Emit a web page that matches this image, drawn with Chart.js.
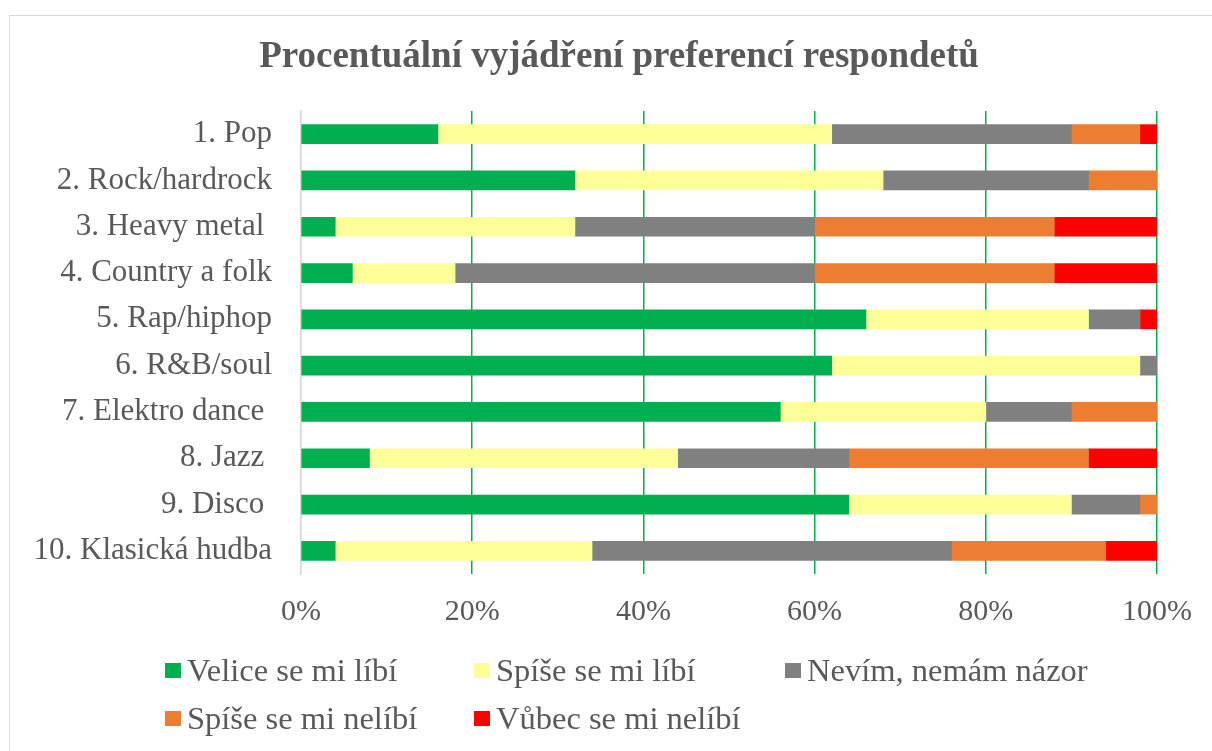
<!DOCTYPE html>
<html>
<head>
<meta charset="utf-8">
<script src="https://cdn.jsdelivr.net/npm/chart.js@4"></script>
<style>
    html, body { margin: 0; padding: 0; background: #fff; }
    #frame {
        position: absolute; left: 9px; top: 15px; width: 1230px; height: 760px;
        border: 1px solid #d9d9d9; box-sizing: border-box;
    }
    #wrap { position: absolute; left: 0; top: 0; width: 1212px; height: 751px; }
</style>
</head>
<body>
<div id="frame"></div>
<div id="wrap"><canvas id="chart"></canvas></div>
<script>
const categories = [
    "1. Pop", "2. Rock/hardrock", "3. Heavy metal ", "4. Country a folk", "5. Rap/hiphop",
    "6. R&B/soul", "7. Elektro dance ", "8. Jazz ", "9. Disco ", "10. Klasická hudba",
];
const veliceLibi = [16, 32, 4, 6, 66, 62, 56, 8, 64, 4];
const spiseLibi = [46, 36, 28, 12, 26, 36, 24, 36, 26, 30];
const nevim = [28, 24, 28, 42, 6, 2, 10, 20, 8, 42];
const spiseNelibi = [8, 8, 28, 28, 0, 0, 10, 28, 2, 18];
const vubecNelibi = [2, 0, 12, 12, 2, 0, 0, 8, 0, 6];
const xTicks = [0, 20, 40, 60, 80, 100];

const FONT = "'Liberation Serif', 'Times New Roman', serif";
const TEXT = "#595959";

// legend in Excel-like fixed columns
const gridLegend = {
    id: "gridLegend",
    afterDraw(chart) {
        const ctx = chart.ctx;
        const cols = [165, 474, 785];
        const rows = [671, 719];
        ctx.save();
        ctx.font = "32.5px " + FONT;
        ctx.textBaseline = "middle";
        chart.data.datasets.forEach((ds, i) => {
            const x = cols[i % 3];
            const y = rows[Math.floor(i / 3)];
            ctx.fillStyle = ds.backgroundColor;
            ctx.fillRect(x, y - 8, 16, 15);
            ctx.fillStyle = TEXT;
            ctx.fillText(ds.label, x + 22, y + 1);
        });
        ctx.restore();
    },
};

// centre the title over the whole frame, not over the padded area
const shiftTitle = {
    id: "shiftTitle",
    afterLayout(chart) {
        chart.titleBlock.left += 35;
        chart.titleBlock.right += 35;
    },
};

const series = [
    { label: "Velice se mi líbí", data: veliceLibi, color: "#00b050" },
    { label: "Spíše se mi líbí", data: spiseLibi, color: "#ffff99" },
    { label: "Nevím, nemám názor", data: nevim, color: "#808080" },
    { label: "Spíše se mi nelíbí", data: spiseNelibi, color: "#ed7d31" },
    { label: "Vůbec se mi nelíbí", data: vubecNelibi, color: "#ff0000" },
];

new Chart(document.getElementById("chart"), {
    type: "bar",
    data: {
        labels: categories,
        datasets: series.map((s) => {
            return {
                label: s.label,
                data: s.data,
                backgroundColor: s.color,
                barThickness: 19,
            };
        }),
    },
    options: {
        indexAxis: "y",
        responsive: true,
        maintainAspectRatio: false,
        animation: false,
        layout: {
            padding: { top: 16, left: 10, right: 54, bottom: 97 },
        },
        scales: {
            x: {
                stacked: true,
                min: 0,
                max: 100,
                afterBuildTicks: (scale) => {
                    scale.ticks = xTicks.map((v) => ({ value: v }));
                },
                afterFit: (scale) => {
                    scale.height = 80;
                },
                border: { display: false },
                grid: {
                    drawTicks: false,
                    lineWidth: 1.5,
                    color: (c) => (c.index === 0 ? "#d9d9d9" : "#00b050"),
                },
                ticks: {
                    padding: 20,
                    color: TEXT,
                    font: { family: FONT, size: 30 },
                    callback: (v) => v + "%",
                },
            },
            y: {
                stacked: true,
                afterFit: (scale) => {
                    scale.width = 291;
                },
                border: { color: "#d9d9d9", width: 1.5 },
                grid: { display: false, drawTicks: false },
                ticks: {
                    padding: 29,
                    color: TEXT,
                    font: { family: FONT, size: 31 },
                },
            },
        },
        plugins: {
            legend: { display: false },
            tooltip: { enabled: false },
            title: {
                display: true,
                text: "Procentuální vyjádření preferencí respondetů",
                color: TEXT,
                font: { family: FONT, size: 37, weight: "bold", lineHeight: 1.2 },
                padding: { top: 19, bottom: 31.6 },
            },
        },
    },
    plugins: [gridLegend, shiftTitle],
});
</script>
</body>
</html>
